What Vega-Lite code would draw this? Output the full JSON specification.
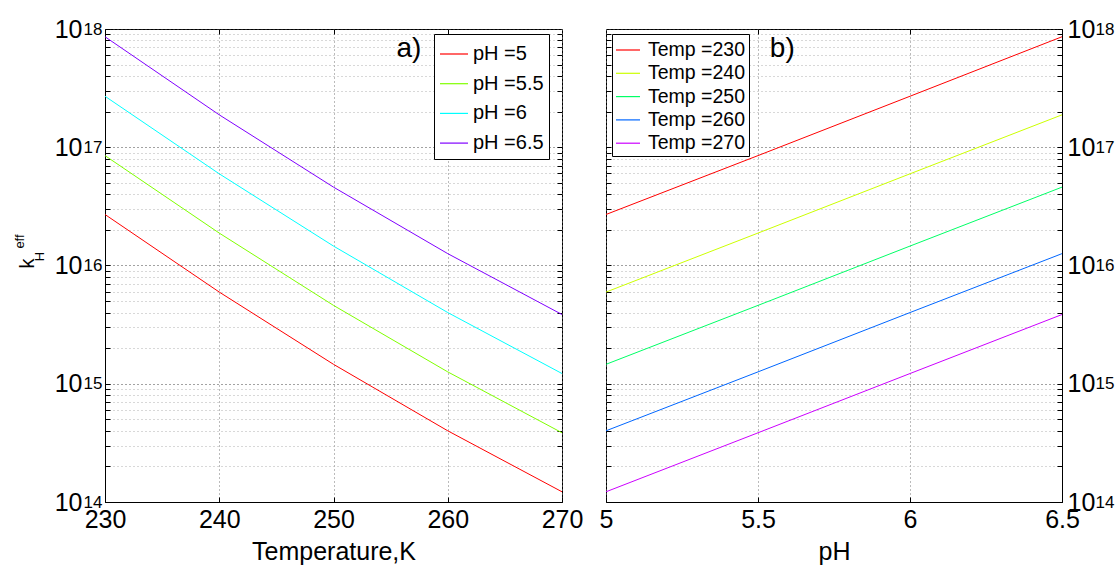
{
  "$schema": "https://vega.github.io/schema/vega-lite/v6.json",
  "background": "white",
  "padding": {"left": 12, "top": 16, "right": 5, "bottom": 5},
  "config": {
    "font": "Liberation Sans",
    "view": {"stroke": "black", "strokeWidth": 1},
    "axis": {
      "labelColor": "black", "titleColor": "black", "domainColor": "black", "tickColor": "black",
      "labelFont": "Liberation Sans", "titleFont": "Liberation Sans", "titleFontWeight": "normal",
      "labelFontSize": 25, "titleFontSize": 25, "gridDash": [1, 3], "gridWidth": 1, "gridOpacity": 1,
      "labelFlush": false, "labelOverlap": false
    },
    "legend": {
      "labelFont": "Liberation Sans", "labelColor": "black", "title": null
    }
  },
  "datasets": {
    "d": [
      {"T": 230, "pH": 5, "k": 2.7e16, "pHlab": "pH =5", "Tlab": "Temp =230"},
      {"T": 230, "pH": 5.5, "k": 8.5e16, "pHlab": "pH =5.5", "Tlab": "Temp =230"},
      {"T": 230, "pH": 6, "k": 2.7e17, "pHlab": "pH =6", "Tlab": "Temp =230"},
      {"T": 230, "pH": 6.5, "k": 8.6e17, "pHlab": "pH =6.5", "Tlab": "Temp =230"},
      {"T": 240, "pH": 5, "k": 5.96e15, "pHlab": "pH =5", "Tlab": "Temp =240"},
      {"T": 240, "pH": 5.5, "k": 1.88e16, "pHlab": "pH =5.5", "Tlab": "Temp =240"},
      {"T": 240, "pH": 6, "k": 5.96e16, "pHlab": "pH =6", "Tlab": "Temp =240"},
      {"T": 240, "pH": 6.5, "k": 1.88e17, "pHlab": "pH =6.5", "Tlab": "Temp =240"},
      {"T": 250, "pH": 5, "k": 1.46e15, "pHlab": "pH =5", "Tlab": "Temp =250"},
      {"T": 250, "pH": 5.5, "k": 4.6e15, "pHlab": "pH =5.5", "Tlab": "Temp =250"},
      {"T": 250, "pH": 6, "k": 1.46e16, "pHlab": "pH =6", "Tlab": "Temp =250"},
      {"T": 250, "pH": 6.5, "k": 4.6e16, "pHlab": "pH =6.5", "Tlab": "Temp =250"},
      {"T": 260, "pH": 5, "k": 4.0e14, "pHlab": "pH =5", "Tlab": "Temp =260"},
      {"T": 260, "pH": 5.5, "k": 1.26e15, "pHlab": "pH =5.5", "Tlab": "Temp =260"},
      {"T": 260, "pH": 6, "k": 4.0e15, "pHlab": "pH =6", "Tlab": "Temp =260"},
      {"T": 260, "pH": 6.5, "k": 1.26e16, "pHlab": "pH =6.5", "Tlab": "Temp =260"},
      {"T": 270, "pH": 5, "k": 1.22e14, "pHlab": "pH =5", "Tlab": "Temp =270"},
      {"T": 270, "pH": 5.5, "k": 3.85e14, "pHlab": "pH =5.5", "Tlab": "Temp =270"},
      {"T": 270, "pH": 6, "k": 1.22e15, "pHlab": "pH =6", "Tlab": "Temp =270"},
      {"T": 270, "pH": 6.5, "k": 3.85e15, "pHlab": "pH =6.5", "Tlab": "Temp =270"}
    ],
    "yv": [1e14, 2e14, 3e14, 4e14, 5e14, 6e14, 7e14, 8e14, 9e14, 1e15, 2e15, 3e15, 4e15, 5e15, 6e15, 7e15, 8e15, 9e15, 1e16, 2e16, 3e16, 4e16, 5e16, 6e16, 7e16, 8e16, 9e16, 1e17, 2e17, 3e17, 4e17, 5e17, 6e17, 7e17, 8e17, 9e17, 1e18]
  },
  "spacing": 44,
  "bounds": "flush",
  "hconcat": [
    {
      "width": 457,
      "height": 473,
      "layer": [
        {
          "data": {"name": "d"},
          "mark": {"type": "line", "strokeWidth": 1, "clip": true},
          "encoding": {
            "x": {
              "field": "T", "type": "quantitative",
              "scale": {"domain": [230, 270], "nice": false, "zero": false},
              "axis": {"values": [230, 240, 250, 260, 270], "format": "d", "title": "Temperature,K", "labelPadding": 10, "tickSize": -5, "grid": true, "gridColor": "#777", "titlePadding": 7}
            },
            "y": {
              "field": "k", "type": "quantitative",
              "scale": {"type": "log", "domain": [1e14, 1e18], "nice": false},
              "axis": {
                "orient": "left",
                "values": [1e14, 2e14, 3e14, 4e14, 5e14, 6e14, 7e14, 8e14, 9e14, 1e15, 2e15, 3e15, 4e15, 5e15, 6e15, 7e15, 8e15, 9e15, 1e16, 2e16, 3e16, 4e16, 5e16, 6e16, 7e16, 8e16, 9e16, 1e17, 2e17, 3e17, 4e17, 5e17, 6e17, 7e17, 8e17, 9e17, 1e18],
                "labelExpr": "abs(log(datum.value)/LN10 - round(log(datum.value)/LN10)) < 0.01 ? '10' : ''",
                "labelPadding": 28, "tickSize": -5, "grid": true,
                "gridColor": {"condition": {"test": "abs(log(datum.value)/LN10 - round(log(datum.value)/LN10)) < 0.01", "value": "#444"}, "value": "#b0b0b0"},
                "title": "k", "titleFontSize": 20, "titleX": -78, "titleY": 234, "titleAngle": 270, "titleAlign": "center", "titleBaseline": "middle"
              }
            },
            "color": {
              "field": "pHlab", "type": "nominal",
              "scale": {"domain": ["pH =5", "pH =5.5", "pH =6", "pH =6.5"], "range": ["#ff0000", "#80ff00", "#00ffff", "#8000ff"]},
              "legend": {"orient": "none", "legendX": 329, "legendY": 5, "padding": 5, "strokeColor": "black", "fillColor": "white", "symbolType": "stroke", "symbolStrokeWidth": 1.2, "symbolSize": 784, "labelFontSize": 20, "rowPadding": 4.7, "labelOffset": 4}
            }
          }
        },
        {
          "data": {"values": [{"x": 256.6, "y": 6.8e17, "t": "a)"}]},
          "mark": {"type": "text", "fontSize": 28, "font": "Liberation Sans", "color": "black"},
          "encoding": {
            "x": {"field": "x", "type": "quantitative", "scale": {"domain": [230, 270], "nice": false, "zero": false},
              "axis": {"orient": "top", "values": [240, 250, 260], "labels": false, "title": null, "tickSize": -5, "grid": false, "domain": false}},
            "y": {
              "field": "y", "type": "quantitative",
              "scale": {"type": "log", "domain": [1e14, 1e18], "nice": false},
              "axis": {"orient": "left", "values": [1e14, 1e15, 1e16, 1e17, 1e18], "labelExpr": "format(round(log(datum.value)/LN10),'d')", "labelFontSize": 17, "labelDy": -12, "labelPadding": 3, "ticks": false, "tickSize": 0, "domain": false, "grid": false,
                "title": "eff", "titleFontSize": 13, "titleX": -86, "titleY": 212, "titleAngle": 270, "titleAlign": "center", "titleBaseline": "middle"}
            },
            "text": {"field": "t"}
          }
        },
        {
          "data": {"values": [{"x": 256.6, "y": 7.3e17, "t": ""}]},
          "mark": {"type": "text", "fontSize": 28, "opacity": 0},
          "encoding": {
            "x": {"field": "x", "type": "quantitative", "scale": {"domain": [230, 270], "nice": false, "zero": false}, "axis": null},
            "y": {
              "field": "y", "type": "quantitative",
              "scale": {"type": "log", "domain": [1e14, 1e18], "nice": false},
              "axis": {"orient": "left", "labels": false, "ticks": false, "tickSize": 0, "domain": false, "grid": false,
                "title": "H", "titleFontSize": 13, "titleX": -66, "titleY": 227, "titleAngle": 270, "titleAlign": "center", "titleBaseline": "middle"}
            },
            "text": {"field": "t"}
          }
        },
        {
          "data": {"values": [{"x": 256.6, "y": 7.3e17, "t": ""}]},
          "mark": {"type": "text", "fontSize": 28, "opacity": 0},
          "encoding": {
            "x": {"field": "x", "type": "quantitative", "scale": {"domain": [230, 270], "nice": false, "zero": false}, "axis": null},
            "y": {
              "field": "y", "type": "quantitative",
              "scale": {"type": "log", "domain": [1e14, 1e18], "nice": false},
              "axis": {"orient": "right", "values": [2e14, 3e14, 4e14, 5e14, 6e14, 7e14, 8e14, 9e14, 1e15, 2e15, 3e15, 4e15, 5e15, 6e15, 7e15, 8e15, 9e15, 1e16, 2e16, 3e16, 4e16, 5e16, 6e16, 7e16, 8e16, 9e16, 1e17, 2e17, 3e17, 4e17, 5e17, 6e17, 7e17, 8e17, 9e17],
                "labels": false, "tickSize": -5, "domain": false, "grid": false, "title": null}
            },
            "text": {"field": "t"}
          }
        }
      ],
      "resolve": {"scale": {"x": "independent", "y": "independent"}, "axis": {"x": "independent", "y": "independent"}}
    },
    {
      "width": 456,
      "height": 473,
      "layer": [
        {
          "data": {"name": "d"},
          "mark": {"type": "line", "strokeWidth": 1, "clip": true},
          "encoding": {
            "x": {
              "field": "pH", "type": "quantitative",
              "scale": {"domain": [5, 6.5], "nice": false, "zero": false},
              "axis": {"values": [5, 5.5, 6, 6.5], "format": "~g", "title": "pH", "labelPadding": 10, "tickSize": -5, "grid": true, "gridColor": "#777", "titlePadding": 7}
            },
            "y": {
              "field": "k", "type": "quantitative",
              "scale": {"type": "log", "domain": [1e14, 1e18], "nice": false},
              "axis": {
                "orient": "right",
                "values": [1e14, 2e14, 3e14, 4e14, 5e14, 6e14, 7e14, 8e14, 9e14, 1e15, 2e15, 3e15, 4e15, 5e15, 6e15, 7e15, 8e15, 9e15, 1e16, 2e16, 3e16, 4e16, 5e16, 6e16, 7e16, 8e16, 9e16, 1e17, 2e17, 3e17, 4e17, 5e17, 6e17, 7e17, 8e17, 9e17, 1e18],
                "labelExpr": "abs(log(datum.value)/LN10 - round(log(datum.value)/LN10)) < 0.01 ? '10' : ''",
                "labelPadding": 10, "tickSize": -5, "grid": true,
                "gridColor": {"condition": {"test": "abs(log(datum.value)/LN10 - round(log(datum.value)/LN10)) < 0.01", "value": "#444"}, "value": "#b0b0b0"},
                "title": null
              }
            },
            "color": {
              "field": "Tlab", "type": "nominal",
              "scale": {"domain": ["Temp =230", "Temp =240", "Temp =250", "Temp =260", "Temp =270"], "range": ["#ff0000", "#ccff00", "#00ff66", "#0066ff", "#cc00ff"]},
              "legend": {"orient": "none", "legendX": 6, "legendY": 5, "padding": 3, "strokeColor": "black", "fillColor": "white", "symbolType": "stroke", "symbolStrokeWidth": 1.2, "symbolSize": 576, "labelFontSize": 19.5, "rowPadding": 0.3, "labelOffset": 7}
            }
          }
        },
        {
          "data": {"values": [{"x": 5.58, "y": 6.8e17, "t": "b)"}]},
          "mark": {"type": "text", "fontSize": 28, "font": "Liberation Sans", "color": "black"},
          "encoding": {
            "x": {"field": "x", "type": "quantitative", "scale": {"domain": [5, 6.5], "nice": false, "zero": false},
              "axis": {"orient": "top", "values": [5.5, 6], "labels": false, "title": null, "tickSize": -5, "grid": false, "domain": false}},
            "y": {
              "field": "y", "type": "quantitative",
              "scale": {"type": "log", "domain": [1e14, 1e18], "nice": false},
              "axis": {"orient": "right", "values": [1e14, 1e15, 1e16, 1e17, 1e18], "labelExpr": "format(round(log(datum.value)/LN10),'d')", "labelFontSize": 17, "labelDy": -12, "labelPadding": 33, "ticks": false, "tickSize": 0, "domain": false, "grid": false, "title": null}
            },
            "text": {"field": "t"}
          }
        },
        {
          "data": {"values": [{"x": 5.58, "y": 7.3e17, "t": ""}]},
          "mark": {"type": "text", "fontSize": 28, "opacity": 0},
          "encoding": {
            "x": {"field": "x", "type": "quantitative", "scale": {"domain": [5, 6.5], "nice": false, "zero": false}, "axis": null},
            "y": {
              "field": "y", "type": "quantitative",
              "scale": {"type": "log", "domain": [1e14, 1e18], "nice": false},
              "axis": {"orient": "left", "values": [2e14, 3e14, 4e14, 5e14, 6e14, 7e14, 8e14, 9e14, 1e15, 2e15, 3e15, 4e15, 5e15, 6e15, 7e15, 8e15, 9e15, 1e16, 2e16, 3e16, 4e16, 5e16, 6e16, 7e16, 8e16, 9e16, 1e17, 2e17, 3e17, 4e17, 5e17, 6e17, 7e17, 8e17, 9e17],
                "labels": false, "tickSize": -5, "domain": false, "grid": false, "title": null}
            },
            "text": {"field": "t"}
          }
        }
      ],
      "resolve": {"scale": {"x": "independent", "y": "independent", "color": "independent"}, "axis": {"x": "independent", "y": "independent"}}
    }
  ],
  "resolve": {"scale": {"color": "independent", "x": "independent", "y": "independent"}, "legend": {"color": "independent"}}
}
